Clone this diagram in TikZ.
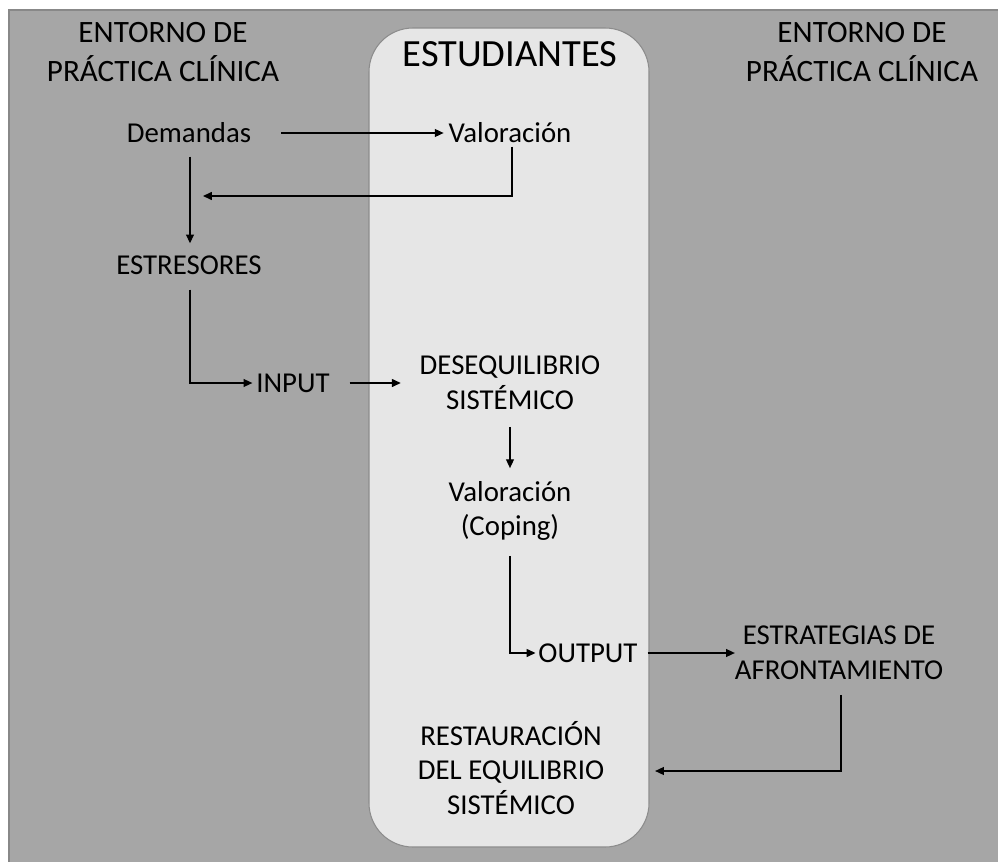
\documentclass[tikz,border=0pt]{standalone}
\usepackage{fontspec}
\setmainfont{Carlito}
\usetikzlibrary{arrows.meta}
\definecolor{outerbg}{HTML}{A6A6A6}
\definecolor{outerln}{HTML}{888888}
\definecolor{innerbg}{HTML}{E6E6E6}
\definecolor{innerln}{HTML}{8C8C8C}
\tikzset{
	lbl/.style={font=\fontsize{16.4}{19.8}\selectfont, inner sep=0pt, outer sep=0pt, align=center},
	one/.style={lbl, text height=13.1pt, text depth=2.5pt},
	ttl/.style={font=\fontsize{17.7}{22.2}\selectfont, inner sep=0pt, outer sep=0pt, align=center},
	arr/.style={-{Triangle[length=5pt,width=4.5pt]}, line width=0.7pt},
}

\begin{document}
\begin{tikzpicture}[x=0.02cm, y=-0.02cm]
	\useasboundingbox (0,0) rectangle (998,862);
	\fill[outerbg] (9,10) rectangle (998,862);
	\draw[outerln, line width=0.8pt] (9,862) -- (9,10) -- (998,10);
	\draw[innerln, fill=innerbg, line width=0.6pt, rounded corners=25pt] (369,28) rectangle (649,847);

	\node[ttl] (titL) at (163,52) {ENTORNO DE\\PRÁCTICA CLÍNICA};
	\node[ttl] (titR) at (862,52) {ENTORNO DE\\PRÁCTICA CLÍNICA};
	\node[font=\fontsize{21.9}{26}\selectfont, inner sep=0pt] (stu) at (510,54) {ESTUDIANTES};

	\node[one] (dem) at (189,133) {Demandas};
	\node[one] (val1) at (510,133) {Valoración};
	\node[one] (str) at (189,265) {ESTRESORES};
	\node[one] (inp) at (293,383) {INPUT};
	\node[lbl] (des) at (510,383) {DESEQUILIBRIO\\SISTÉMICO};
	\node[lbl] (val2) at (510,511) {Valoración\\(Coping)};
	\node[one] (out) at (588,653) {OUTPUT};
	\node[lbl] (est) at (839,653) {ESTRATEGIAS DE\\AFRONTAMIENTO};
	\node[lbl] (res) at (511,768) {RESTAURACIÓN\\DEL EQUILIBRIO\\SISTÉMICO};

	\coordinate (ret) at (203,196);

	\draw[arr] ([shift={(30,0)}]dem.east) -- ([shift={(-5,0)}]val1.west);
	\draw[arr] ([shift={(2,0)}]val1.south) |- (ret);
	\draw[arr] ([shift={(1,10)}]dem.south) -- ([shift={(1,-8)}]str.north);
	\draw[arr] ([shift={(1,11)}]str.south) |- ([shift={(-4,0)}]inp.west);
	\draw[arr] ([shift={(20,0)}]inp.east) -- ([shift={(-19,0)}]des.west);
	\draw[arr] ([shift={(0,17)}]des.south) -- ([shift={(0,-13)}]val2.north);
	\draw[arr] ([shift={(0,15)}]val2.south) |- ([shift={(-3,0)}]out.west);
	\draw[arr] ([shift={(10,0)}]out.east) -- (est.west);
	\draw[arr] ([shift={(2,15)}]est.south) |- ([shift={(51,3)}]res.east);
\end{tikzpicture}
\end{document}
